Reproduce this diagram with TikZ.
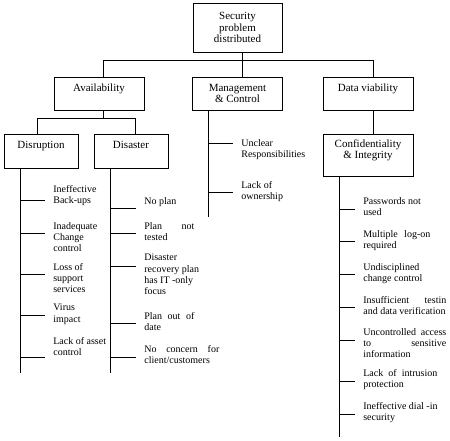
\documentclass[tikz,border=0pt]{standalone}
\usepackage{fontspec}
\setmainfont{Liberation Serif}
\newcommand{\jline}[2]{\makebox[#1pt][s]{#2}}

\begin{document}
\begin{tikzpicture}[x=1pt,y=-1pt,line width=0.7pt,
  box/.style={draw, align=center, inner sep=2pt, font=\fontsize{11}{11.5}\selectfont},
  item/.style={anchor=north west, align=left, inner xsep=8pt, inner ysep=0pt,
    font=\fontsize{10}{11.3}\selectfont}]
  \useasboundingbox (0,0) rectangle (450,440);

  % boxes
  \node[box, minimum width=89pt, minimum height=49pt] (root) at (237.5,27.5) {Security\\problem\\distributed};
  \node[box, minimum width=90pt, minimum height=33pt] (avail) at (99,93.5) {Availability\\\mbox{}};
  \node[box, minimum width=90pt, minimum height=33pt] (mgmt) at (237.5,93.5) {Management\\\& Control};
  \node[box, minimum width=90pt, minimum height=33pt] (data) at (368,93.5) {Data viability\\\mbox{}};
  \node[box, minimum width=74pt, minimum height=34pt] (disr) at (41,151) {Disruption\\\mbox{}};
  \node[box, minimum width=74pt, minimum height=34pt] (disa) at (131,151) {Disaster\\\mbox{}};
  \node[box, minimum width=90pt, minimum height=42pt] (conf) at (368,155) {Confidentiality\\\& Integrity\\\mbox{}};

  % tree
  \draw ([xshift=4.5pt]root.south) -- ([xshift=4.5pt]mgmt.north);
  \draw ([xshift=4pt]avail.north) -- ++(0,-16) -| ([xshift=5pt]data.north);
  \draw ([xshift=4pt]avail.south) -- ++(0,8) coordinate (split);
  \draw ([xshift=-4pt]disr.north) |- (split) -| ([xshift=4pt]disa.north);
  \draw ([xshift=5pt]data.south) -- ([xshift=5pt]conf.north);

  % trunks
  \draw ([xshift=17pt]disr.south west) -- ++(0,205);
  \draw ([xshift=17pt]disa.south west) -- ++(0,205);
  \draw ([xshift=16pt]mgmt.south west) -- ++(0,107);
  \draw ([xshift=17pt]conf.south west) -- ++(0,261);

  % Disruption
  \node[item] (r1) at (45,185) {Ineffective\\Back-ups};
  \node[item] (r2) at (45,222) {Inadequate\\Change\\control};
  \node[item] (r3) at (45,263) {Loss of\\support\\services};
  \node[item] (r4) at (45,304) {Virus\\impact};
  \node[item] (r5) at (45,337) {Lack of asset\\control};
  \coordinate (rt1) at (21,200); \coordinate (rt2) at (21,233);
  \coordinate (rt3) at (21,274); \coordinate (rt4) at (21,315);
  \coordinate (rt5) at (21,357);
  \draw (rt1) -- (rt1 -| r1.west);
  \draw (rt2) -- (rt2 -| r2.west);
  \draw (rt3) -- (rt3 -| r3.west);
  \draw (rt4) -- (rt4 -| r4.west);
  \draw (rt5) -- (rt5 -| r5.west);

  % Disaster
  \node[item] (s1) at (136,197) {No plan};
  \node[item] (s2) at (136,222) {\jline{50}{Plan not}\\tested};
  \node[item] (s3) at (136,254) {Disaster\\recovery plan\\has IT -only\\focus};
  \node[item] (s4) at (136,312) {\jline{50}{Plan out of}\\date};
  \node[item] (s5) at (136,345) {\jline{75}{No concern for}\\client/customers};
  \coordinate (st1) at (111,208); \coordinate (st2) at (111,233);
  \coordinate (st3) at (111,266); \coordinate (st4) at (111,323);
  \coordinate (st5) at (111,357);
  \draw (st1) -- (st1 -| s1.west);
  \draw (st2) -- (st2 -| s2.west);
  \draw (st3) -- (st3 -| s3.west);
  \draw (st4) -- (st4 -| s4.west);
  \draw (st5) -- (st5 -| s5.west);

  % Management & Control
  \node[item] (m1) at (233,139) {Unclear\\Responsibilities};
  \node[item] (m2) at (233,181) {Lack of\\ownership};
  \coordinate (mt1) at (208.5,143); \coordinate (mt2) at (208.5,192);
  \draw (mt1) -- (mt1 -| m1.west);
  \draw (mt2) -- (mt2 -| m2.west);

  % Confidentiality & Integrity
  \node[item] (c1) at (355,197) {Passwords not\\used};
  \node[item] (c2) at (355,230) {\jline{67}{Multiple log-on}\\required};
  \node[item] (c3) at (355,263) {Undisciplined\\change control};
  \node[item] (c4) at (355,296) {\jline{83}{Insufficient testin}\\and data verification};
  \node[item] (c5) at (355,328) {\jline{83}{Uncontrolled access}\\\jline{83}{to sensitive}\\information};
  \node[item] (c6) at (355,369) {\jline{74}{Lack of intrusion}\\protection};
  \node[item] (c7) at (355,402) {Ineffective dial -in\\security};
  \coordinate (ct1) at (340,209); \coordinate (ct2) at (340,241);
  \coordinate (ct3) at (340,274); \coordinate (ct4) at (340,307);
  \coordinate (ct5) at (340,340); \coordinate (ct6) at (340,381);
  \coordinate (ct7) at (340,414);
  \draw (ct1) -- (ct1 -| c1.west);
  \draw (ct2) -- (ct2 -| c2.west);
  \draw (ct3) -- (ct3 -| c3.west);
  \draw (ct4) -- (ct4 -| c4.west);
  \draw (ct5) -- (ct5 -| c5.west);
  \draw (ct6) -- (ct6 -| c6.west);
  \draw (ct7) -- (ct7 -| c7.west);
\end{tikzpicture}
\end{document}
